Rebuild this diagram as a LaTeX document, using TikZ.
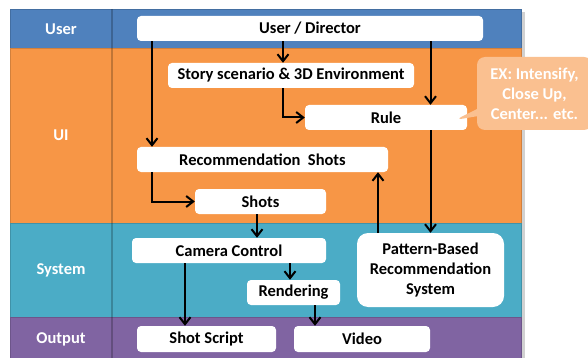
\documentclass[tikz,border=0pt]{standalone}
\usepackage{fontspec}
\setmainfont{Carlito}
\usetikzlibrary{arrows.meta,shapes.callouts}

\definecolor{userblue}{HTML}{4F81BD}
\definecolor{uiorange}{HTML}{F79646}
\definecolor{systeal}{HTML}{4BACC6}
\definecolor{outpurple}{HTML}{8064A2}
\definecolor{notefill}{HTML}{FAC090}

\tikzset{
  box/.style={fill=white, rounded corners=4pt, minimum height=25pt, inner sep=0pt,
    font=\bfseries\fontsize{16.5}{20}\selectfont},
  lanelabel/.style={text=white, font=\bfseries\fontsize{16.5}{20}\selectfont},
  arr/.style={-{Straight Barb[length=7pt,width=11pt]}, line width=2pt},
}

\begin{document}
\begin{tikzpicture}[x=1pt,y=-1pt]
\useasboundingbox (0,0) rectangle (588,358);

% Lanes
\fill[black!18] (13,12) rectangle (525,358);
\filldraw[fill=userblue, draw=userblue!85!black] (10,9) rectangle (521,48);
\filldraw[fill=uiorange, draw=uiorange!85!black] (10,48) rectangle (521,223);
\filldraw[fill=systeal, draw=systeal!85!black] (10,223) rectangle (521,317);
\filldraw[fill=outpurple, draw=outpurple!85!black] (10,317) rectangle (521,360);
\draw[black, opacity=0.22, line width=1.5pt] (112,9) -- (112,358);

% Lane labels
\node[lanelabel] (luser) at (61,29) {User};
\node[lanelabel] (lui) at (61,135) {UI};
\node[lanelabel] (lsys) at (61,270) {System};
\node[lanelabel] (lout) at (61,339) {Output};

% Boxes
\node[box, minimum width=346pt] (director) at (310,28.5) {User / Director};
\node[box, minimum width=246pt] (story) at (291,75.5) {Story scenario \& 3D Environment};
\node[box, minimum width=162pt] (rule) at (386,117.5) {Rule};
\node[box, minimum width=251pt] (recshots) at (262.5,159.5) {Recommendation~ Shots};
\node[box, minimum width=131pt] (shots) at (260.5,201.5) {Shots};
\node[box, minimum width=194pt] (camera) at (229,250.5) {Camera Control};
\node[box, minimum width=93pt] (render) at (293.5,292.5) {Rendering};
\node[box, minimum width=147pt, minimum height=74pt, rounded corners=11pt, align=center]
  (pattern) at (430.5,270) {Pattern-Based\\Recommendation\\System};
\node[box, minimum width=139pt, minimum height=26pt] (shotscript) at (206.5,339) {Shot Script};
\node[box, minimum width=136pt, minimum height=26pt] (video) at (362,339) {Video};

% Note
\node[rectangle callout, fill=notefill, text=white, rounded corners=8pt, align=center,
  minimum width=115pt, minimum height=73pt, inner sep=0pt,
  font=\bfseries\fontsize{16.5}{20}\selectfont,
  callout absolute pointer={(455,120)}]
  (note) at (534.5,93.5) {EX: Intensify,\\Close Up,\\Center... etc.};

% Connectors
\draw[arr] (director.south -| 283,0) -- (story.north -| 283,0);
\draw[arr] (director.south -| 152,0) -- (recshots.north -| 152,0);
\draw[arr] (director.south -| pattern.north) -- (rule.north -| pattern.north);
\draw[arr] (story.south -| 283,0) |- (rule.west);
\draw[arr] (rule.south -| pattern.north) -- (pattern.north);
\draw[arr] (pattern.north -| 378,0) -- (recshots.south -| 378,0);
\draw[arr] (recshots.south -| 152,0) |- (shots.west);
\draw[arr] (shots.south -| 257,0) -- (camera.north -| 257,0);
\draw[arr] (camera.south -| 290,0) -- (render.north -| 290,0);
\draw[arr] (camera.south -| 185,0) -- (shotscript.north -| 185,0);
\draw[arr] (render.south -| 315,0) -- (video.north -| 315,0);

\end{tikzpicture}
\end{document}
